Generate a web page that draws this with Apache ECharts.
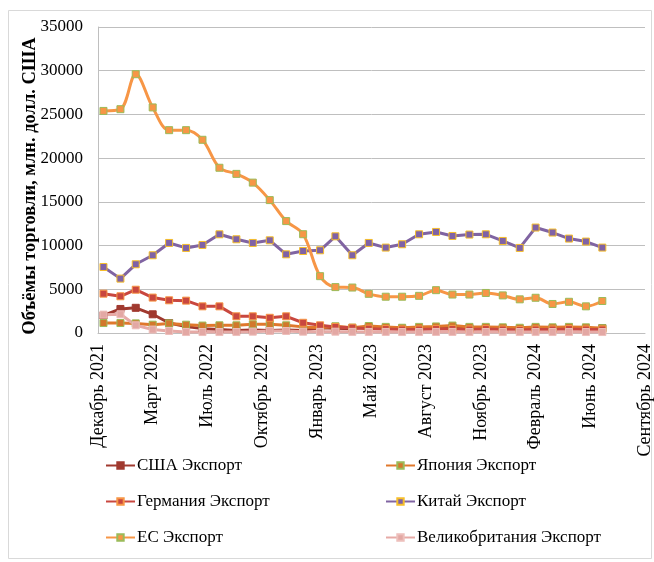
<!DOCTYPE html>
<html>
<head>
<meta charset="utf-8">
<script src="https://cdn.jsdelivr.net/npm/echarts@6/dist/echarts.min.js"></script>
<style>
  html, body { margin: 0; padding: 0; background: #fff; }
  #chart { width: 654px; height: 562px; }
</style>
</head>
<body>
<div id="chart"></div>
<script>
// Monthly exports, Dec 2021 .. Jun 2024 (31 months), mln USD
const START_YEAR = 2021, START_MONTH = 11; // December 2021 (0-based month)
const MONTH_COUNT = 31;

const usaExport = [2000, 2750, 2880, 2140, 1140, 730, 500, 400, 300, 350, 300, 350, 300, 600, 550, 500,
  650, 550, 500, 500, 600, 650, 550, 550, 500, 450, 550, 500, 600, 500, 550];
const japanExport = [1140, 1140, 1100, 950, 1100, 950, 850, 880, 880, 1000, 1000, 880, 700, 610, 770, 610,
  800, 700, 600, 700, 750, 850, 700, 700, 650, 600, 700, 650, 700, 650, 550];
const germanyExport = [4500, 4200, 4950, 4050, 3740, 3700, 3050, 3050, 1910, 1910, 1740, 1910, 1170, 880, 690, 610,
  500, 450, 400, 400, 450, 450, 400, 450, 400, 350, 400, 400, 450, 400, 400];
const chinaExport = [7550, 6220, 7860, 8890, 10300, 9730, 10070, 11290, 10720, 10300, 10600, 9000, 9380, 9460, 11060, 8890,
  10300, 9770, 10150, 11290, 11560, 11100, 11260, 11290, 10530, 9730, 12060, 11490, 10800, 10460, 9770];
const euExport = [25400, 25600, 29600, 25800, 23200, 23200, 22100, 18900, 18200, 17200, 15200, 12800, 11300, 6500, 5250, 5200,
  4480, 4150, 4150, 4250, 4900, 4400, 4400, 4580, 4300, 3850, 4030, 3320, 3570, 3050, 3660];
const ukExport = [2100, 2140, 880, 390, 230, 110, 110, 110, 110, 150, 230, 230, 150, 130, 150, 130,
  120, 120, 110, 110, 120, 120, 110, 110, 110, 110, 110, 110, 110, 110, 110];

// date axis: starts 21 Dec 2021, major unit 100 days
const AXIS_START = Date.UTC(2021, 11, 21);
const xTickLabels = ['Декабрь 2021', 'Март 2022', 'Июль 2022', 'Октябрь 2022', 'Январь 2023', 'Май 2023',
  'Август 2023', 'Ноябрь 2023', 'Февраль 2024', 'Июнь 2024', 'Сентябрь 2024'];

const FONT = "'Liberation Serif', 'Times New Roman', serif";
const DAY = 86400000;

// points sit on month-end dates, measured in days from the axis start
const dayOffsets = [];
for (let i = 0; i < MONTH_COUNT; i++) {
  const end = Date.UTC(START_YEAR, START_MONTH + i + 1, 0);
  dayOffsets.push((end - AXIS_START) / DAY);
}
const pair = vals => vals.map((v, i) => [dayOffsets[i], v]);

const SERIES = [
  { name: 'США Экспорт', data: usaExport, line: '#A0392F', fill: '#A0392F', border: '#A0392F' },
  { name: 'Япония Экспорт', data: japanExport, line: '#E0782C', fill: '#D2782C', border: '#9BBB59' },
  { name: 'Германия Экспорт', data: germanyExport, line: '#C9473F', fill: '#C9473F', border: '#F79646' },
  { name: 'Китай Экспорт', data: chinaExport, line: '#8064A2', fill: '#7F62A6', border: '#F6BE2A' },
  { name: 'ЕС Экспорт', data: euExport, line: '#F79646', fill: '#F79646', border: '#9BBB59', smooth: 0.35 },
  { name: 'Великобритания Экспорт', data: ukExport, line: '#E6AAA6', fill: '#E3A8A4', border: '#EDBFBB' },
];

const chart = echarts.init(document.getElementById('chart'), null, { renderer: 'canvas' });

const legendBase = {
  orient: 'vertical', top: 452, itemGap: 19, itemWidth: 29, itemHeight: 8,
  textStyle: { fontFamily: FONT, fontSize: 17, color: '#000', padding: [0, 0, 0, -3] },
};

chart.setOption({
  animation: false,
  backgroundColor: '#fff',
  graphic: [{
    type: 'rect', shape: { x: 8.5, y: 10.5, width: 643, height: 548 },
    style: { fill: 'none', stroke: '#D9D9D9', lineWidth: 1 }, silent: true, z: -1,
  }],
  grid: { left: 98, right: 9, top: 27, bottom: 229 },
  legend: [
    { ...legendBase, left: 100, data: ['США Экспорт', 'Германия Экспорт', 'ЕС Экспорт'] },
    { ...legendBase, left: 380, data: ['Япония Экспорт', 'Китай Экспорт', 'Великобритания Экспорт'] },
  ],
  xAxis: {
    type: 'value', min: 0, max: 1000, interval: 100,
    axisLine: { show: true, lineStyle: { color: '#BFBFBF', width: 1 } },
    axisTick: { show: false },
    splitLine: { show: false },
    axisLabel: {
      rotate: 90, margin: 11, color: '#000', fontFamily: FONT, fontSize: 18,
      formatter: v => xTickLabels[Math.round(v / 100)] || '',
    },
  },
  yAxis: {
    type: 'value', min: 0, max: 35000, interval: 5000,
    name: 'Объёмы торговли, млн. долл. США',
    nameLocation: 'middle', nameGap: 58, nameMoveOverlap: false,
    nameTextStyle: {
      fontFamily: FONT, fontSize: 18.5, fontWeight: 'bold', color: '#000',
      padding: [0, 12, 0, 0],
    },
    axisLine: { show: true, lineStyle: { color: '#BFBFBF', width: 1 } },
    axisTick: { show: false },
    splitLine: { lineStyle: { color: '#BFBFBF', width: 1 } },
    axisLabel: { margin: 15, color: '#000', fontFamily: FONT, fontSize: 17, formatter: v => String(v) },
  },
  series: SERIES.map(s => ({
    name: s.name,
    type: 'line',
    data: pair(s.data),
    smooth: s.smooth || false,
    symbol: 'rect',
    symbolSize: 7,
    showAllSymbol: true,
    lineStyle: { color: s.line, width: 3 },
    itemStyle: { color: s.fill, borderColor: s.border, borderWidth: 1 },
    emphasis: { disabled: true },
  })),
});
</script>
</body>
</html>
